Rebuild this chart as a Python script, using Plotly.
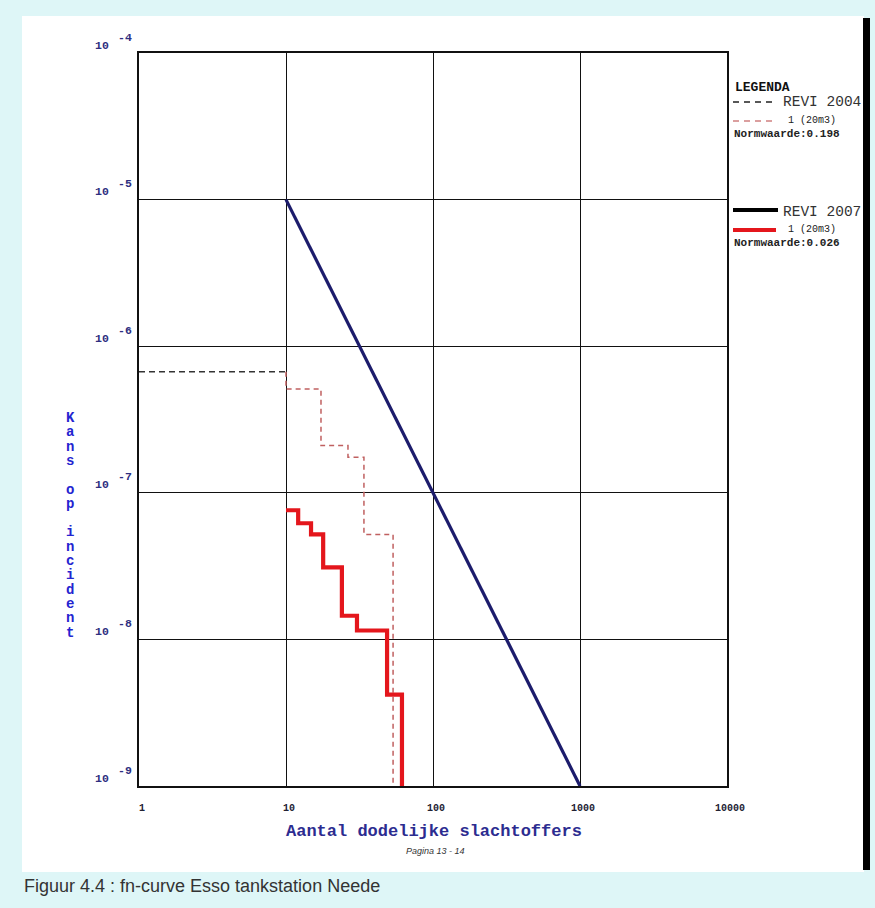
import math
import plotly.graph_objects as go

# ---------------- data ----------------
x_ticks = [1, 10, 100, 1000, 10000]
x_tick_labels = ["1", "10", "100", "1000", "10000"]
y_ticks = [1e-9, 1e-8, 1e-7, 1e-6, 1e-5, 1e-4]
y_tick_exps = ["-9", "-8", "-7", "-6", "-5", "-4"]

# REVI 2007 norm line
norm2007_n = [10, 1000]
norm2007_p = [1e-5, 1e-9]

# REVI 2004 norm line (dashed black)
norm2004_n = [1, 10]
norm2004_p = [6.7e-7, 6.7e-7]

# FN-curve REVI 2004, scenario 1 (20m3) - dashed red
fn2004_n = [10, 10, 17.3, 26.4, 33.9, 53.5]
fn2004_p = [6.7e-7, 5.1e-7, 2.1e-7, 1.75e-7, 5.2e-8, 1e-10]

# FN-curve REVI 2007, scenario 1 (20m3) - solid red
fn2007_n = [10, 12.1, 14.8, 17.9, 24.0, 30.4, 48.7, 61.5]
fn2007_p = [7.6e-8, 6.2e-8, 5.2e-8, 3.1e-8, 1.45e-8, 1.15e-8, 4.2e-9, 1e-10]

# ---------------- layout geometry ----------------
W, H = 875, 908
L, R, T, B = 139, 727, 53, 786


def px(x):
    return (x - L) / (R - L)


def py(y):
    return (B - y) / (B - T)


MONO = "Liberation Mono, DejaVu Sans Mono, monospace"
SANS = "Liberation Sans, Arial, sans-serif"

fig = go.Figure()

fig.add_trace(go.Scatter(x=norm2004_n, y=norm2004_p, mode="lines",
                         line=dict(color="#333333", width=1.5, dash="6px,4px"),
                         showlegend=False, hoverinfo="skip"))
fig.add_trace(go.Scatter(x=fn2004_n, y=fn2004_p, mode="lines", line_shape="hv",
                         line=dict(color="#c06060", width=1.5, dash="5px,4px"),
                         showlegend=False, hoverinfo="skip"))
fig.add_trace(go.Scatter(x=norm2007_n, y=norm2007_p, mode="lines",
                         line=dict(color="#1c1c6c", width=3.2),
                         showlegend=False, hoverinfo="skip"))
fig.add_trace(go.Scatter(x=fn2007_n, y=fn2007_p, mode="lines", line_shape="hv",
                         line=dict(color="#e4161c", width=4.2),
                         showlegend=False, hoverinfo="skip"))

shapes = []
# white page
shapes.append(dict(type="rect", xref="paper", yref="paper", layer="below",
                   x0=px(22), x1=px(864), y0=py(872), y1=py(16),
                   fillcolor="white", line=dict(width=0)))
# black bar on the right
shapes.append(dict(type="rect", xref="paper", yref="paper", layer="above",
                   x0=px(863), x1=px(870), y0=py(870), y1=py(18),
                   fillcolor="black", line=dict(width=0)))
# legend samples
shapes.append(dict(type="line", xref="paper", yref="paper",
                   x0=px(733), x1=px(776), y0=py(102), y1=py(102),
                   line=dict(color="#222222", width=1.6, dash="6px,5px")))
shapes.append(dict(type="line", xref="paper", yref="paper",
                   x0=px(733), x1=px(776), y0=py(121), y1=py(121),
                   line=dict(color="#d08080", width=1.5, dash="6px,5px")))
shapes.append(dict(type="line", xref="paper", yref="paper",
                   x0=px(733), x1=px(778), y0=py(210), y1=py(210),
                   line=dict(color="black", width=4)))
shapes.append(dict(type="line", xref="paper", yref="paper",
                   x0=px(733), x1=px(776), y0=py(230), y1=py(230),
                   line=dict(color="#e4161c", width=4)))

ann = []


def text(x, y, s, size, color="#111111", family=MONO, bold=False, xanchor="left", italic=False):
    ann.append(dict(x=px(x), y=py(y), xref="paper", yref="paper", text=s,
                    showarrow=False, xanchor=xanchor, yanchor="middle",
                    font=dict(size=size, color=color, family=family,
                              weight="bold" if bold else "normal",
                              style="italic" if italic else "normal")))


# legend texts
text(733, 88, "LEGENDA", 13, bold=True)
text(781, 102, "REVI 2004", 14.5, color="#333333")
text(786, 120, "1 (20m3)", 10, color="#222222")
text(732, 134, "Normwaarde:0.198", 11, color="#222222", bold=True)
text(781, 212, "REVI 2007", 14.5, color="#333333")
text(786, 229, "1 (20m3)", 10, color="#222222")
text(732, 243, "Normwaarde:0.026", 11, color="#222222", bold=True)

# y tick labels (10 with exponent), placed at the tick values on the log axis
for val, e in zip(y_ticks, y_tick_exps):
    ann.append(dict(x=px(102), y=math.log10(val), xref="paper", yref="y", text="10",
                    showarrow=False, xanchor="center", yanchor="middle", yshift=8,
                    font=dict(size=11.5, color="#2e2e80", family=MONO, weight="bold")))
    ann.append(dict(x=px(125), y=math.log10(val), xref="paper", yref="y", text=e,
                    showarrow=False, xanchor="center", yanchor="middle", yshift=16,
                    font=dict(size=11.5, color="#2e2e80", family=MONO, weight="bold")))

# axis titles
text(434, 832, "Aantal dodelijke slachtoffers", 17, color="#2c2c90", bold=True, xanchor="center")
text(435, 851, "Pagina 13 - 14", 9, color="#333333", family=SANS, xanchor="center", italic=True)
ytitle = "<br>".join('<span style="font-size:14px">' + c + "</span>" if c != " " else " "
                     for c in "Kans op incident")
ann.append(dict(x=px(70), y=py(525), xref="paper", yref="paper", text=ytitle,
                showarrow=False, xanchor="center", yanchor="middle", align="center",
                font=dict(size=11, color="#2424d0", family=MONO, weight="bold")))

# caption
text(22, 886, "Figuur 4.4 : fn-curve Esso tankstation Neede", 18, color="#333333", family=SANS)

fig.update_layout(
    width=W, height=H,
    margin=dict(l=L, r=W - R, t=T, b=H - B, pad=0),
    paper_bgcolor="#def6f7",
    plot_bgcolor="white",
    showlegend=False,
    shapes=shapes,
    annotations=ann,
    xaxis=dict(type="log", range=[0, 4], tickmode="array", tickvals=x_ticks,
               ticktext=x_tick_labels,
               showgrid=True, gridcolor="#111111", gridwidth=1,
               showline=True, linecolor="#111111", linewidth=2, mirror=True,
               ticks="", ticklabelstandoff=11, ticklabelshift=3, zeroline=False,
               tickfont=dict(size=10, color="#222233", family=MONO, weight="bold")),
    yaxis=dict(type="log", range=[-9, -4], tickmode="array", tickvals=y_ticks,
               showticklabels=False,
               showgrid=True, gridcolor="#111111", gridwidth=1,
               showline=True, linecolor="#111111", linewidth=2, mirror=True,
               ticks="", zeroline=False),
)

fig.write_html("out.html")
